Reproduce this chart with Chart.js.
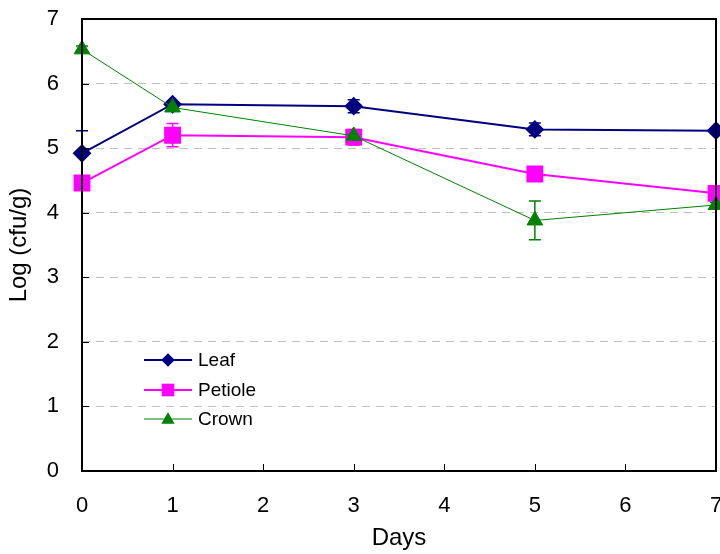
<!DOCTYPE html>
<html>
<head>
<meta charset="utf-8">
<script src="https://cdn.jsdelivr.net/npm/chart.js@4/dist/chart.umd.min.js"></script>
<style>
  html, body { margin: 0; padding: 0; background: #fff; }
  #wrap { width: 720px; height: 554px; }
</style>
</head>
<body>
<div id="wrap"><canvas id="chart"></canvas></div>
<script>
const days = [0, 1, 3, 5, 7];
const seriesNames = ['Leaf', 'Petiole', 'Crown'];
const leaf = [4.92, 5.68, 5.65, 5.29, 5.27];
const leafErr = [0.35, 0.04, 0.10, 0.10, 0.03];
const petiole = [4.46, 5.20, 5.17, 4.60, 4.30];
const petioleErr = [0.05, 0.18, 0.12, 0.04, 0.03];
const crown = [6.53, 5.63, 5.19, 3.88, 4.12];
const crownErr = [0.05, 0.05, 0.06, 0.30, 0.04];
const yTicks = [0, 1, 2, 3, 4, 5, 6, 7];
const xTicks = [0, 1, 2, 3, 4, 5, 6, 7];

const FONT = 'Liberation Sans, Arial, sans-serif';

function toPoints(ys) {
    return days.map((d, i) => ({ x: d, y: ys[i] }));
}

function noPadding(scale) {
    scale.paddingLeft = 0;
    scale.paddingRight = 0;
    scale.paddingTop = 0;
    scale.paddingBottom = 0;
}

const errorBars = {
    id: 'errorBars',
    beforeDatasetsDraw(chart) {
        const ctx = chart.ctx;
        const xs = chart.scales.x, ys = chart.scales.y;
        chart.data.datasets.forEach(ds => {
            ctx.save();
            ctx.strokeStyle = ds.borderColor;
            ctx.lineWidth = 1.5;
            ds.data.forEach((p, i) => {
                const e = ds.errors[i];
                const px = xs.getPixelForValue(p.x);
                const top = ys.getPixelForValue(p.y + e);
                const bot = ys.getPixelForValue(p.y - e);
                ctx.beginPath();
                ctx.moveTo(px, top); ctx.lineTo(px, bot);
                ctx.moveTo(px - 6, top); ctx.lineTo(px + 6, top);
                ctx.moveTo(px - 6, bot); ctx.lineTo(px + 6, bot);
                ctx.stroke();
            });
            ctx.restore();
        });
    }
};

const frame = {
    id: 'frame',
    afterDatasetsDraw(chart) {
        const ctx = chart.ctx;
        const a = chart.chartArea;
        const xs = chart.scales.x, ys = chart.scales.y;
        ctx.save();
        ctx.strokeStyle = '#000';
        ctx.lineWidth = 1;
        ctx.beginPath();
        xTicks.forEach(v => {
            const px = Math.round(xs.getPixelForValue(v)) + 0.5;
            ctx.moveTo(px, a.bottom); ctx.lineTo(px, a.bottom - 7);
        });
        yTicks.forEach(v => {
            const py = Math.round(ys.getPixelForValue(v)) + 0.5;
            ctx.moveTo(a.left, py); ctx.lineTo(a.left + 7, py);
        });
        ctx.stroke();
        ctx.lineWidth = 2;
        ctx.strokeRect(a.left, a.top, a.right - a.left, a.bottom - a.top);
        ctx.restore();
    }
};

function marker(ctx, style, x, y, r, color) {
    ctx.fillStyle = color;
    ctx.beginPath();
    if (style === 'rectRot') {
        ctx.moveTo(x, y - r); ctx.lineTo(x + r, y); ctx.lineTo(x, y + r); ctx.lineTo(x - r, y);
    } else if (style === 'rect') {
        const s = r * Math.SQRT1_2;
        ctx.rect(x - s, y - s, 2 * s, 2 * s);
    } else {
        const h = r * 0.866;
        ctx.moveTo(x, y - r); ctx.lineTo(x + h, y + r / 2); ctx.lineTo(x - h, y + r / 2);
    }
    ctx.closePath();
    ctx.fill();
}

const innerLegend = {
    id: 'innerLegend',
    afterDraw(chart) {
        const ctx = chart.ctx;
        const rows = [360, 390, 419];
        const order = [2, 1, 0];
        ctx.save();
        ctx.font = '19px ' + FONT;
        ctx.textBaseline = 'middle';
        order.forEach((di, k) => {
            const ds = chart.data.datasets[di];
            const y = rows[k];
            ctx.strokeStyle = ds.borderColor;
            ctx.lineWidth = ds.borderWidth;
            ctx.beginPath();
            ctx.moveTo(144, y); ctx.lineTo(192, y);
            ctx.stroke();
            marker(ctx, ds.pointStyle, 168, y + (ds.pointStyle === 'triangle' ? 1 : 0), ds.pointRadius * 0.85, ds.borderColor);
            ctx.fillStyle = '#000';
            ctx.fillText(ds.label, 198, y + 1);
        });
        ctx.restore();
    }
};

new Chart(document.getElementById('chart'), {
    type: 'line',
    data: {
        datasets: [
            {
                label: seriesNames[2], data: toPoints(crown), errors: crownErr,
                borderColor: '#008000', backgroundColor: '#008000', borderWidth: 1,
                pointStyle: 'triangle', pointRadius: 9, order: 0, clip: false
            },
            {
                label: seriesNames[1], data: toPoints(petiole), errors: petioleErr,
                borderColor: '#ff00ff', backgroundColor: '#ff00ff', borderWidth: 2,
                pointStyle: 'rect', pointRadius: 10.5, order: 1, clip: false
            },
            {
                label: seriesNames[0], data: toPoints(leaf), errors: leafErr,
                borderColor: '#000080', backgroundColor: '#000080', borderWidth: 2,
                pointStyle: 'rectRot', pointRadius: 8, order: 2, clip: false
            }
        ]
    },
    options: {
        responsive: true,
        maintainAspectRatio: false,
        animation: false,
        layout: { autoPadding: false, padding: { top: 19, right: 4, left: 0, bottom: 0 } },
        elements: {
            line: { tension: 0, fill: false },
            point: { borderWidth: 0, hoverRadius: 9 }
        },
        plugins: {
            legend: { display: false },
            tooltip: { enabled: false }
        },
        scales: {
            x: {
                type: 'linear',
                min: 0, max: 7,
                afterFit(scale) { noPadding(scale); scale.height = 83; },
                afterBuildTicks(scale) { scale.ticks = xTicks.map(v => ({ value: v })); },
                ticks: { color: '#000', font: { family: FONT, size: 22 }, padding: 22, maxRotation: 0 },
                grid: { display: false, drawTicks: false },
                border: { display: false },
                title: { display: true, text: 'Days', color: '#000', font: { family: FONT, size: 24 }, padding: { top: 0, bottom: 1 } }
            },
            y: {
                min: 0, max: 7,
                afterFit(scale) { noPadding(scale); scale.width = 82; },
                afterBuildTicks(scale) { scale.ticks = yTicks.map(v => ({ value: v })); },
                ticks: { color: '#000', font: { family: FONT, size: 22 }, padding: 23 },
                grid: {
                    drawTicks: false,
                    color: ctx => (ctx.tick && ctx.tick.value > 0 && ctx.tick.value < 7) ? '#c0c0c0' : 'rgba(0,0,0,0)',
                    lineWidth: 1
                },
                border: { display: false, dash: [8, 6] },
                title: { display: true, text: 'Log (cfu/g)', color: '#000', font: { family: FONT, size: 24 }, padding: { top: 5, bottom: 0 } }
            }
        }
    },
    plugins: [errorBars, frame, innerLegend]
});
</script>
</body>
</html>
